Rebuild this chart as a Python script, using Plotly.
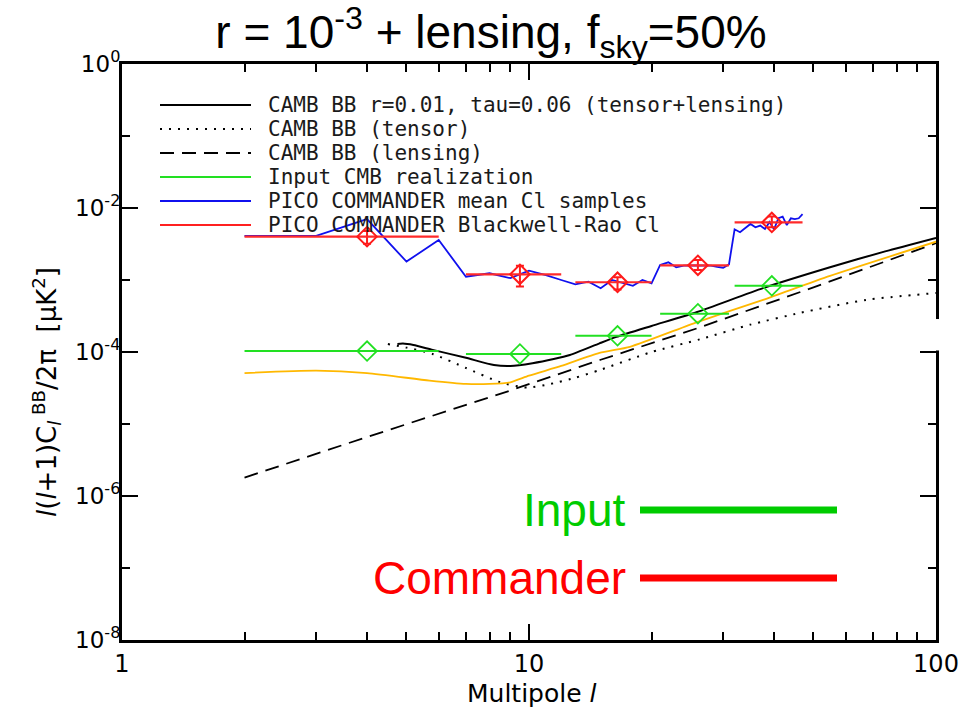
import plotly.graph_objects as go

# ---------------- data ----------------
# CAMB theory spectra, l(l+1)C_l^BB/2pi in uK^2
ell_total = [4.75, 4.9, 5.2, 5.8, 7.0, 8.2, 9.0, 10.2, 11.5, 12.6, 14.9, 16.4, 20, 25.9, 37.6, 54.9, 75, 100]
cl_total = [1.29e-4, 1.31e-4, 1.25e-4, 1.07e-4, 8.3e-5, 6.6e-5, 6.4e-5, 7.0e-5, 8.0e-5, 9.1e-5,
            1.32e-4, 1.62e-4, 2.3e-4, 3.6e-4, 7.7e-4, 1.5e-3, 2.5e-3, 3.85e-3]

ell_tensor = [4.5, 5.0, 5.8, 7.0, 8.5, 9.9, 11.3, 13, 14.9, 20, 26.3, 35, 46.4, 67.5, 100]
cl_tensor = [1.29e-4, 1.15e-4, 9.4e-5, 6.0e-5, 3.8e-5, 3.2e-5, 3.6e-5, 4.4e-5, 5.6e-5, 1.0e-4,
             1.5e-4, 2.4e-4, 3.5e-4, 5.3e-4, 6.6e-4]

ell_lens = [2, 4, 8.8, 15, 26, 50, 100]
cl_lens = [1.8e-6, 6.6e-6, 2.8e-5, 7.8e-5, 2.15e-4, 7.9e-4, 3.25e-3]

# lensing + noise level
ell_noise = [2, 3, 4, 5.7, 7, 8, 9, 10, 12, 14.9, 17.7, 25.9, 37.6, 54.9, 100]
cl_noise = [5.1e-5, 5.5e-5, 5.1e-5, 4.0e-5, 3.6e-5, 3.6e-5, 3.8e-5, 4.7e-5, 6.4e-5, 9.7e-5,
            1.18e-4, 2.6e-4, 5.3e-4, 1.14e-3, 3.4e-3]

# PICO COMMANDER mean C_l over samples, per multipole
ell_samples = list(range(2, 48))
cl_samples = [4.1e-3, 4.1e-3, 7.0e-3, 1.8e-3, 3.6e-3, 1.11e-3, 1.24e-3, 1.06e-3, 1.35e-3, 1.17e-3,
              1.0e-3, 8.7e-4, 9.5e-4, 7.7e-4, 1.0e-3, 9.1e-4, 8.3e-4, 1.0e-3, 9.0e-4, 1.62e-3,
              1.76e-3, 1.5e-3, 1.58e-3, 1.6e-3, 1.6e-3, 1.57e-3, 1.58e-3, 1.52e-3, 1.48e-3, 1.65e-3,
              5.06e-3, 4.6e-3, 5.3e-3, 6.0e-3, 5.4e-3, 5.7e-3, 5.1e-3, 6.4e-3, 5.06e-3, 7.2e-3,
              7.6e-3, 5.8e-3, 7.2e-3, 7.0e-3, 7.2e-3, 8.2e-3]

# binned band powers
bin_center = [4, 9.5, 16.5, 26, 39.5]
bin_lo = [2, 7, 13, 21, 32]
bin_hi = [6, 12, 20, 31, 47]
cl_input = [1.03e-4, 9.4e-5, 1.68e-4, 3.4e-4, 8.3e-4]
cl_br = [4.0e-3, 1.2e-3, 9.3e-4, 1.6e-3, 6.3e-3]
cl_br_hi = [4.8e-3, 1.58e-3, 1.09e-3, 1.9e-3, 7.6e-3]
cl_br_lo = [3.2e-3, 8.1e-4, 7.4e-4, 1.38e-3, 5.4e-3]

legend_labels = [
    "CAMB BB r=0.01, tau=0.06 (tensor+lensing)",
    "CAMB BB (tensor)",
    "CAMB BB (lensing)",
    "Input CMB realization",
    "PICO COMMANDER mean Cl samples",
    "PICO COMMANDER Blackwell-Rao Cl",
]
legend_styles = [
    ("black", "solid"), ("black", "2px,7px"), ("black", "14px,8px"),
    ("#22e022", "solid"), ("#1010ee", "solid"), ("#ff2020", "solid"),
]

y_tickvals = [1e-8, 1e-6, 1e-4, 1e-2, 1]
y_ticktext = ["10<sup>-8</sup>", "10<sup>-6</sup>", "10<sup>-4</sup>", "10<sup>-2</sup>", "10<sup>0</sup>"]
x_tickvals = [1, 10, 100]
x_ticktext = ["1", "10", "100"]

# ---------------- figure ----------------
fig = go.Figure()

fig.add_trace(go.Scatter(x=ell_lens, y=cl_lens, mode="lines", line=dict(color="black", width=1.8, dash="14px,8px")))
fig.add_trace(go.Scatter(x=ell_tensor, y=cl_tensor, mode="lines", line=dict(color="black", width=2, dash="2px,7px", shape="spline", smoothing=0.6)))
fig.add_trace(go.Scatter(x=ell_total, y=cl_total, mode="lines", line=dict(color="black", width=2, shape="spline", smoothing=0.6)))
fig.add_trace(go.Scatter(x=ell_noise, y=cl_noise, mode="lines", line=dict(color="#ffb800", width=1.8, shape="spline", smoothing=0.6)))

err_x_plus = [h - c for h, c in zip(bin_hi, bin_center)]
err_x_minus = [c - l for l, c in zip(bin_lo, bin_center)]

fig.add_trace(go.Scatter(
    x=bin_center, y=cl_input, mode="markers",
    marker=dict(symbol="diamond-open", size=15, color="#22e022", line=dict(width=1.8, color="#22e022")),
    error_x=dict(type="data", symmetric=False, array=err_x_plus, arrayminus=err_x_minus,
                 color="#22e022", thickness=2, width=0),
))
fig.add_trace(go.Scatter(x=ell_samples, y=cl_samples, mode="lines", line=dict(color="#1010ee", width=1.8)))
fig.add_trace(go.Scatter(
    x=bin_center, y=cl_br, mode="markers",
    marker=dict(symbol="diamond-open", size=15, color="#ff1a1a", line=dict(width=2, color="#ff1a1a")),
    error_x=dict(type="data", symmetric=False, array=err_x_plus, arrayminus=err_x_minus,
                 color="#ff2a2a", thickness=2.2, width=0),
    error_y=dict(type="data", symmetric=False,
                 array=[h - v for h, v in zip(cl_br_hi, cl_br)],
                 arrayminus=[v - l for l, v in zip(cl_br_lo, cl_br)],
                 color="#ff1a1a", thickness=2, width=4),
))

fig.update_xaxes(
    type="log", range=[0, 2], showline=True, linecolor="black", linewidth=3, mirror="ticks",
    ticks="inside", ticklen=16, tickwidth=2, tickcolor="black",
    tickvals=x_tickvals, ticktext=x_ticktext,
    tickfont=dict(family="DejaVu Sans", size=24, color="black"), ticklabelstandoff=0,
    minor=dict(ticks="inside", ticklen=8, tickwidth=2, tickcolor="black", dtick="D1"),
    showgrid=False, zeroline=False, automargin=False,
)
fig.update_yaxes(
    type="log", range=[-8, 0], showline=True, linecolor="black", linewidth=3, mirror="ticks",
    ticks="inside", ticklen=16, tickwidth=2, tickcolor="black",
    tickvals=y_tickvals, ticktext=y_ticktext,
    tickfont=dict(family="DejaVu Sans", size=23, color="black"), ticklabelstandoff=-6,
    minor=dict(ticks="inside", ticklen=8, tickwidth=2, tickcolor="black", dtick=1),
    showgrid=False, zeroline=False, automargin=False,
)

shapes = []
annotations = []

# in-plot legend
row_y0 = 105
for i, (label, (color, dash)) in enumerate(zip(legend_labels, legend_styles)):
    py = row_y0 + 24 * i
    yp = (640 - py) / 576
    shapes.append(dict(type="line", xref="paper", yref="paper",
                       x0=(160 - 122) / 814, x1=(251 - 122) / 814, y0=yp, y1=yp,
                       line=dict(color=color, width=1.8, dash=dash)))
    annotations.append(dict(xref="paper", yref="paper", x=(266 - 122) / 814, y=yp,
                            xanchor="left", yanchor="middle", text=label, showarrow=False,
                            font=dict(family="DejaVu Sans Mono", size=21, color="#1a1a1a")))

# gap in the right-hand frame
shapes.append(dict(type="rect", xref="paper", yref="y", x0=0.997, x1=1.01,
                   y0=1.05e-4, y1=2.87e-4, fillcolor="white", line=dict(width=0), layer="above"))

# big labels with colour keys
for text, color, py in [("Input", "#00cc00", 510), ("Commander", "#ff0000", 578)]:
    yp = (640 - py) / 576
    annotations.append(dict(xref="paper", yref="paper", x=(628 - 122) / 814, y=yp,
                            xanchor="right", yanchor="middle", text=text, showarrow=False,
                            font=dict(family="Liberation Sans", size=46, color=color)))
    shapes.append(dict(type="line", xref="paper", yref="paper",
                       x0=(640 - 122) / 814, x1=(837 - 122) / 814, y0=yp, y1=yp,
                       line=dict(color=color, width=7)))

# axis titles
annotations.append(dict(xref="paper", yref="paper", x=(532 - 122) / 814, y=(640 - 693) / 576,
                        xanchor="center", yanchor="middle", text="Multipole <i>l</i>", showarrow=False,
                        font=dict(family="DejaVu Sans", size=25, color="black")))
annotations.append(dict(xref="paper", yref="paper", x=(46 - 122) / 814, y=(640 - 392) / 576,
                        xanchor="center", yanchor="middle", textangle=-90,
                        text="<i>l</i>(<i>l</i>+1)C<sub><i>l</i></sub><sup> BB</sup>/2π  [μK<sup>2</sup>]",
                        showarrow=False, font=dict(family="DejaVu Sans", size=26, color="black")))

fig.update_layout(
    width=959, height=716,
    margin=dict(l=122, r=23, t=64, b=76, autoexpand=False),
    paper_bgcolor="white", plot_bgcolor="white",
    showlegend=False,
    title=dict(text="r = 10<sup>-3</sup> + lensing, f<sub>sky</sub>=50%",
               x=491 / 959, xanchor="center", y=1 - 32 / 716, yanchor="middle",
               font=dict(family="Liberation Sans", size=46, color="black")),
    shapes=shapes, annotations=annotations,
)

fig.write_html("out.html")
